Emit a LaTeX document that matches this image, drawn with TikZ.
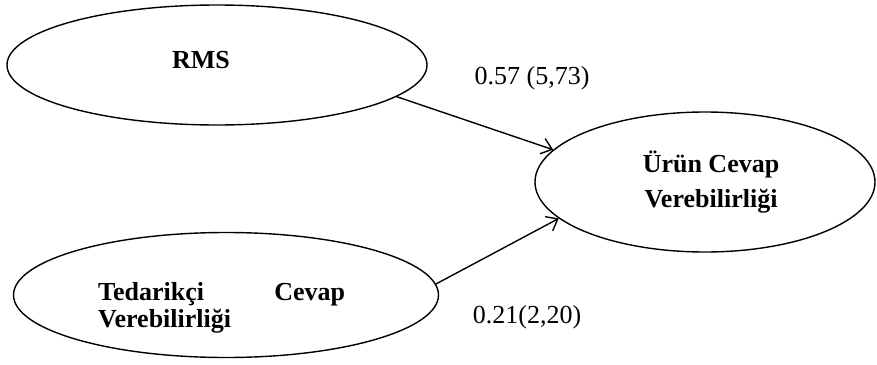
\documentclass[tikz,border=0pt]{standalone}
\usepackage{fontspec}
\setmainfont{Liberation Serif}
\usetikzlibrary{shapes.geometric,arrows.meta}
\begin{document}
\begin{tikzpicture}[x=1pt,y=-1pt,
  oval/.style={draw,ellipse,line width=1.4pt,inner sep=0pt},
  lbl/.style={font=\fontsize{26}{35}\selectfont\bfseries,inner sep=0pt},
  coef/.style={font=\fontsize{26}{30}\selectfont,inner sep=0pt},
  path/.style={draw,line width=1.4pt,-{Straight Barb[length=10pt,width=16pt,line width=1.4pt]}}]
\useasboundingbox (0,0) rectangle (877,364);
\node[oval,minimum width=420pt,minimum height=120pt] (rms) at (217,65) {};
\node[oval,minimum width=425pt,minimum height=125pt] (ted) at (226,295) {};
\node[oval,minimum width=340pt,minimum height=140pt] (urun) at (705,182) {};
\node[lbl] (trms) at (201,60) {RMS};
\node[lbl,text width=247pt,align=left,anchor=north west,font=\fontsize{26}{27}\selectfont\bfseries] (tted) at (98,282) {Tedarikçi\hfill Cevap\\Verebilirliği};
\node[lbl,align=center] (turun) at (711,182) {Ürün Cevap\\Verebilirliği};
\node[coef] (c1) at (532,78) {0.57 (5,73)};
\node[coef] (c2) at (527,317) {0.21(2,20)};
\draw[path] (rms.-10) -- (urun.168);
\draw[path] (ted.3) -- (urun.194);
\end{tikzpicture}
\end{document}
